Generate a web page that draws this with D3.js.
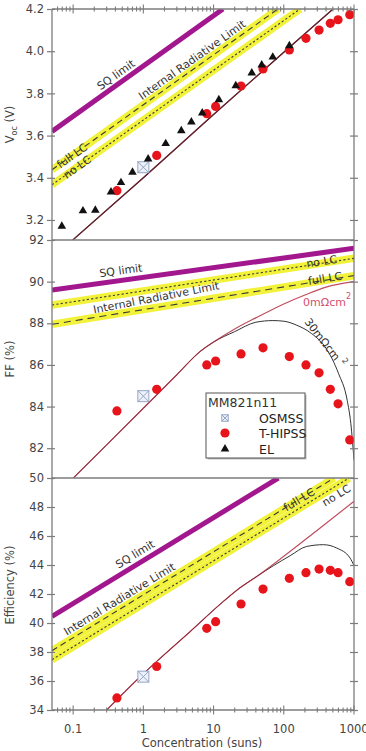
<!DOCTYPE html>
<html>
<head>
<meta charset="utf-8">
<script src="https://cdn.jsdelivr.net/npm/d3@7"></script>
<style>
  body { margin: 0; background: #fff; }
  text { font-family: "DejaVu Sans", sans-serif; }
</style>
</head>
<body>
<div class="chart"></div>
<script>
// ---- measured points (concentration in suns) ----
const hipssConc = [0.42, 1.55, 8.0, 10.7, 24.6, 50.6, 120, 207, 318, 460, 593, 870];
const hipssVoc = [3.339, 3.506, 3.704, 3.738, 3.835, 3.916, 4.006, 4.061, 4.100, 4.132, 4.149, 4.173];
const hipssFF = [83.79, 84.83, 86.0, 86.19, 86.53, 86.82, 86.4, 86.0, 85.62, 84.83, 84.13, 82.4];
const hipssEff = [34.83, 37.0, 39.63, 40.09, 41.31, 42.34, 43.08, 43.47, 43.72, 43.63, 43.47, 42.85];

const elConc = [0.069, 0.138, 0.207, 0.346, 0.48, 0.70, 1.17, 2.08, 3.47, 4.83, 6.9, 11.9, 20.7, 35, 48.5, 69.7, 120];
const elVoc = [3.170, 3.243, 3.246, 3.333, 3.377, 3.426, 3.489, 3.562, 3.623, 3.664, 3.707, 3.770, 3.836, 3.897, 3.935, 3.972, 4.026];

const osmssConc = [1];
const osmssVoc = [3.45];
const osmssFF = [84.5];
const osmssEff = [36.3];

// ---- limit lines ----
const vocSqConc = [0.05, 13.6], vocSq = [3.62, 4.2];
const vocFullLcConc = [0.05, 82.8], vocFullLc = [3.438, 4.2];
const vocNoLcConc = [0.05, 170.5], vocNoLc = [3.367, 4.2];

const ffSqConc = [0.05, 1000], ffSq = [89.6, 91.6];
const ffNoLcConc = [0.05, 1000], ffNoLc = [88.88, 91.12];
const ffFullLcConc = [0.05, 1000], ffFullLc = [87.95, 90.29];

const effSqConc = [0.05, 83.7], effSq = [40.45, 50];
const effFullLcConc = [0.05, 520], effFullLc = [38.09, 50];
const effNoLcConc = [0.05, 851], effNoLc = [37.47, 50];

// ---- model curves (0 and 30 mOhm cm2 series resistance) ----
const vocModelConc = [0.095, 1, 10, 100, 503];
const vocModel = [3.1, 3.40, 3.70, 3.995, 4.2];

const ffModel0Conc = [0.1, 0.3, 1, 3, 6.4, 10, 20, 40, 100, 200, 400, 1000];
const ffModel0 = [80.56, 82.16, 83.92, 85.53, 86.64, 87.1, 87.73, 88.26, 88.93, 89.36, 89.74, 90.0];
const ffModel30Conc = [0.1, 0.3, 1, 3, 6.4, 10, 20, 40, 70, 100, 150, 250, 400, 600, 800, 900, 1000];
const ffModel30 = [80.56, 82.16, 83.92, 85.53, 86.64, 87.1, 87.6, 88.05, 88.13, 88.1, 87.92, 87.5, 86.8, 85.6, 84.3, 83.2, 81.44];

const effModel0Conc = [0.3, 1, 1.55, 4.62, 13.8, 23.8, 41.2, 100, 300, 1000];
const effModel0 = [34.0, 36.5, 37.35, 39.4, 41.49, 42.43, 43.21, 44.6, 46.4, 48.39];
const effModel30Conc = [0.3, 1, 1.55, 4.62, 13.8, 23.8, 41.2, 71, 123, 212, 367, 568, 879, 1000];
const effModel30 = [34.0, 36.5, 37.35, 39.4, 41.49, 42.43, 43.21, 43.95, 44.64, 45.28, 45.4, 45.17, 44.48, 43.95];

// ---- axis ticks ----
const concTicks = [0.1, 1, 10, 100, 1000];
const concTickLabels = ["0.1", "1", "10", "100", "1000"];
const vocTicks = [3.2, 3.4, 3.6, 3.8, 4.0, 4.2];
const ffTicks = [82, 84, 86, 88, 90, 92];
const effTicks = [34, 36, 38, 40, 42, 44, 46, 48, 50];

const legendTitle = "MM821n11";
const legendNames = ["OSMSS", "T-HIPSS", "EL"];

// ---------------------------------------------------------------
const W = 366, H = 751;
const plotLeft = 52, plotRight = 354;
const FRAME = "#7c7c7c", TICKTXT = "#444";
const MAGENTA = "#a3178e", YELLOW = "#f2f23a", RED = "#e8141c", MODELRED = "#b02238";

const x = d3.scaleLog().domain([0.05, 1000]).range([plotLeft, plotRight]);

const svg = d3.select(".chart").append("svg")
    .attr("width", W).attr("height", H)
    .style("display", "block");

const panels = [
    { key: "voc", top: 9, bottom: 240, domain: [3.105, 4.2], ticks: vocTicks, fmt: d3.format(".1f") },
    { key: "ff", top: 240, bottom: 478, domain: [80.57, 92], ticks: ffTicks, fmt: d3.format("d") },
    { key: "eff", top: 478, bottom: 710, domain: [34, 50], ticks: effTicks, fmt: d3.format("d") }
];
panels.forEach(p => {
    p.y = d3.scaleLinear().domain(p.domain).range([p.bottom, p.top]);
    svg.append("clipPath").attr("id", `clip-${p.key}`)
        .append("rect").attr("x", plotLeft).attr("y", p.top)
        .attr("width", plotRight - plotLeft).attr("height", p.bottom - p.top);
    p.g = svg.append("g").attr("clip-path", `url(#clip-${p.key})`);
    p.labels = svg.append("g").attr("font-size", 11).attr("fill", "#333");
});
const [pV, pF, pE] = panels;

function drawLine(p, conc, vals, style) {
    const line = d3.line()
        .x(d => x(d[0]))
        .y(d => p.y(d[1]))
        .curve(conc.length > 2 ? d3.curveMonotoneX : d3.curveLinear);
    const path = p.g.append("path")
        .datum(d3.zip(conc, vals))
        .attr("fill", "none")
        .attr("d", line);
    Object.entries(style).forEach(([k, v]) => path.attr(k, v));
    return path;
}

// yellow band with dashed centre line
function band(p, conc, vals, dash) {
    drawLine(p, conc, vals, { stroke: YELLOW, "stroke-width": 7.5 });
    drawLine(p, conc, vals, { stroke: "#3a3a3a", "stroke-width": 1.1, "stroke-dasharray": dash });
}

// text sitting along a line at concentration `at`
function lineLabel(p, conc, vals, at, text, offset, angle) {
    const pts = conc.map((c, i) => [x(c), p.y(vals[i])]);
    const px = x(at);
    let i = d3.bisector(d => d[0]).right(pts, px) - 1;
    i = Math.max(0, Math.min(pts.length - 2, i));
    const [x0, y0] = pts[i], [x1, y1] = pts[i + 1];
    const py = y0 + (px - x0) / (x1 - x0) * (y1 - y0);
    const ang = angle !== undefined ? angle : Math.atan2(y1 - y0, x1 - x0) * 180 / Math.PI;
    return p.labels.append("text")
        .attr("transform", `translate(${px},${py}) rotate(${ang})`)
        .attr("y", offset)
        .attr("text-anchor", "middle")
        .text(text);
}

const LONG = "6,4", SHORT = "2.2,2.2";

// ---- Voc panel ----
band(pV, vocFullLcConc, vocFullLc, LONG);
band(pV, vocNoLcConc, vocNoLc, SHORT);
drawLine(pV, vocSqConc, vocSq, { stroke: MAGENTA, "stroke-width": 5 });
drawLine(pV, vocModelConc, vocModel, { stroke: "#222", "stroke-width": 1.1 });
drawLine(pV, vocModelConc, vocModel, { stroke: "#7a1a2a", "stroke-width": 1.2, "stroke-opacity": 0.8 });

// ---- FF panel ----
band(pF, ffNoLcConc, ffNoLc, SHORT);
band(pF, ffFullLcConc, ffFullLc, "7,5");
drawLine(pF, ffSqConc, ffSq, { stroke: MAGENTA, "stroke-width": 5 });
drawLine(pF, ffModel30Conc, ffModel30, { stroke: "#333", "stroke-width": 1 });
drawLine(pF, ffModel0Conc, ffModel0, { stroke: MODELRED, "stroke-width": 1.2, "stroke-opacity": 0.8 });

// ---- Efficiency panel ----
band(pE, effFullLcConc, effFullLc, LONG);
band(pE, effNoLcConc, effNoLc, SHORT);
drawLine(pE, effSqConc, effSq, { stroke: MAGENTA, "stroke-width": 5 });
drawLine(pE, effModel30Conc, effModel30, { stroke: "#333", "stroke-width": 1 });
drawLine(pE, effModel0Conc, effModel0, { stroke: MODELRED, "stroke-width": 1.2, "stroke-opacity": 0.8 });

// ---- markers ----
function osmssBox(g, cx, cy, s) {
    const b = g.append("g").attr("transform", `translate(${cx},${cy})`)
        .attr("stroke", "#93a6c6").attr("stroke-width", 1);
    b.append("rect").attr("x", -s / 2).attr("y", -s / 2).attr("width", s).attr("height", s)
        .attr("fill", "#eef2f8");
    b.append("path").attr("d", `M${-s / 2},${-s / 2}L${s / 2},${s / 2}M${s / 2},${-s / 2}L${-s / 2},${s / 2}`);
}
const triangle = d3.symbol().type(d3.symbolTriangle).size(32);

[[pV, hipssVoc, osmssVoc], [pF, hipssFF, osmssFF], [pE, hipssEff, osmssEff]].forEach(([p, vals, osm]) => {
    osmssConc.forEach((c, i) => osmssBox(p.g, x(c), p.y(osm[i]), 11));
    p.g.selectAll(".hipss")
        .data(d3.zip(hipssConc, vals))
        .enter().append("circle")
        .attr("class", "hipss")
        .attr("cx", d => x(d[0]))
        .attr("cy", d => p.y(d[1]))
        .attr("r", 4.6)
        .attr("fill", RED);
});
pV.g.selectAll(".el")
    .data(d3.zip(elConc, elVoc))
    .enter().append("path")
    .attr("class", "el")
    .attr("d", triangle)
    .attr("transform", d => `translate(${x(d[0])},${pV.y(d[1])})`)
    .attr("fill", "#111");

// ---- line labels ----
lineLabel(pV, vocSqConc, vocSq, 0.48, "SQ limit", -5);
lineLabel(pV, vocFullLcConc, vocFullLc, 5.8, "Internal Radiative Limit", -4.5);
lineLabel(pV, vocFullLcConc, vocFullLc, 0.096, "full LC", 4);
lineLabel(pV, vocNoLcConc, vocNoLc, 0.114, "no LC", 4);

lineLabel(pF, ffSqConc, ffSq, 0.5, "SQ limit", -6);
lineLabel(pF, ffNoLcConc, ffNoLc, 350, "no LC", 2);
lineLabel(pF, ffFullLcConc, ffFullLc, 390, "full LC", 2);
lineLabel(pF, ffFullLcConc, ffFullLc, 1.62, "Internal Radiative Limit", -6, -11);

lineLabel(pE, effSqConc, effSq, 0.9, "SQ limit", -6);
lineLabel(pE, effFullLcConc, effFullLc, 0.53, "Internal Radiative Limit", -5);
lineLabel(pE, effFullLcConc, effFullLc, 165, "full LC", 4);
lineLabel(pE, effNoLcConc, effNoLc, 487, "no LC", 12);

// resistance labels
const r0 = pF.labels.append("text")
    .attr("x", x(188)).attr("y", pF.y(88.83))
    .attr("fill", "#d4506c").attr("font-size", 11)
    .text("0mΩcm");
r0.append("tspan").attr("dy", -7).attr("font-size", 8).text("2");

const r30 = pF.labels.append("text")
    .attr("transform", `translate(${x(194)},${pF.y(88.06)}) rotate(52)`)
    .attr("fill", "#333").attr("font-size", 11)
    .text("30mΩcm ");
r30.append("tspan").attr("dy", -6).attr("font-size", 8).text("2");

// ---- frame & axes ----
const frame = svg.append("g").attr("stroke", FRAME).attr("stroke-width", 1.3);
frame.append("line").attr("x1", plotLeft).attr("x2", plotLeft).attr("y1", pV.top).attr("y2", pE.bottom);
frame.append("line").attr("x1", plotRight).attr("x2", plotRight).attr("y1", pV.top).attr("y2", pE.bottom);
[pV.top, pV.bottom, pF.bottom, pE.bottom].forEach(yy =>
    frame.append("line").attr("x1", plotLeft).attr("x2", plotRight).attr("y1", yy).attr("y2", yy));

panels.forEach(p => {
    const gl = svg.append("g")
        .attr("transform", `translate(${plotLeft},0)`)
        .call(d3.axisLeft(p.y).tickValues(p.ticks).tickFormat(p.fmt).tickSize(5).tickPadding(3));
    gl.select(".domain").remove();
    gl.selectAll(".tick line").attr("x1", 3).attr("stroke", FRAME).attr("stroke-width", 1.2);
    gl.selectAll(".tick text").attr("fill", TICKTXT).attr("font-size", 11.5)
        .attr("font-family", "DejaVu Sans, sans-serif");

    const gr = svg.append("g")
        .attr("transform", `translate(${plotRight},0)`)
        .call(d3.axisRight(p.y).tickValues(p.ticks).tickFormat("").tickSize(4));
    gr.select(".domain").remove();
    gr.selectAll(".tick line").attr("x1", -4).attr("stroke", FRAME).attr("stroke-width", 1.2);
});

const allConcTicks = x.ticks().filter(t => t > 0.05);
const isMajor = t => concTicks.some(m => Math.abs(m - t) / m < 1e-6);

[[pV.top, false], [pE.bottom, true]].forEach(([yy, labelled]) => {
    const gx = svg.append("g").attr("transform", `translate(0,${yy})`);
    gx.selectAll("line")
        .data(allConcTicks)
        .enter().append("line")
        .attr("x1", d => x(d)).attr("x2", d => x(d))
        .attr("y1", d => isMajor(d) ? -4.5 : -2.5)
        .attr("y2", d => isMajor(d) ? 4.5 : 2.5)
        .attr("stroke", FRAME).attr("stroke-width", 1.1);
    if (labelled) {
        gx.selectAll("text")
            .data(concTicks)
            .enter().append("text")
            .attr("x", d => x(d)).attr("y", 23)
            .attr("text-anchor", "middle")
            .attr("font-size", 11.5).attr("fill", TICKTXT)
            .text((d, i) => concTickLabels[i]);
    }
});

// axis titles
svg.append("text")
    .attr("x", 202).attr("y", 747)
    .attr("text-anchor", "middle").attr("font-size", 11.5).attr("fill", TICKTXT)
    .text("Concentration (suns)");

const vt = svg.append("text")
    .attr("transform", `translate(14,${(pV.top + pV.bottom) / 2}) rotate(-90)`)
    .attr("text-anchor", "middle").attr("font-size", 11.5).attr("fill", TICKTXT)
    .text("V");
vt.append("tspan").attr("font-size", 8).attr("dy", 3).text("oc");
vt.append("tspan").attr("dy", -3).text(" (V)");

svg.append("text")
    .attr("transform", `translate(14,${(pF.top + pF.bottom) / 2}) rotate(-90)`)
    .attr("text-anchor", "middle").attr("font-size", 11.5).attr("fill", TICKTXT)
    .text("FF (%)");

svg.append("text")
    .attr("transform", `translate(14,585) rotate(-90)`)
    .attr("text-anchor", "middle").attr("font-size", 11.5).attr("fill", TICKTXT)
    .text("Efficiency (%)");

// ---- legend ----
const lg = svg.append("g").attr("transform", "translate(206,393)");
lg.append("rect").attr("x", 1.5).attr("y", 1.5).attr("width", 99).attr("height", 65).attr("fill", "#bbb");
lg.append("rect").attr("width", 99).attr("height", 65).attr("fill", "#fff")
    .attr("stroke", "#555").attr("stroke-width", 1);
lg.append("text").attr("x", 2).attr("y", 14)
    .attr("font-family", "DejaVu Sans Mono, monospace").attr("font-size", 12.5).attr("fill", "#333")
    .text(legendTitle);
const rowY = [25, 40, 56];
osmssBox(lg, 19, rowY[0], 6.5);
lg.append("circle").attr("cx", 19).attr("cy", rowY[1]).attr("r", 4.6).attr("fill", RED);
lg.append("path").attr("d", triangle).attr("transform", `translate(19,${rowY[2]})`).attr("fill", "#111");
legendNames.forEach((n, i) => {
    lg.append("text").attr("x", 53).attr("y", rowY[i] + 4.5)
        .attr("font-family", "Liberation Sans, Arial, sans-serif").attr("font-size", 12.5).attr("fill", "#222")
        .text(n);
});
</script>
</body>
</html>
